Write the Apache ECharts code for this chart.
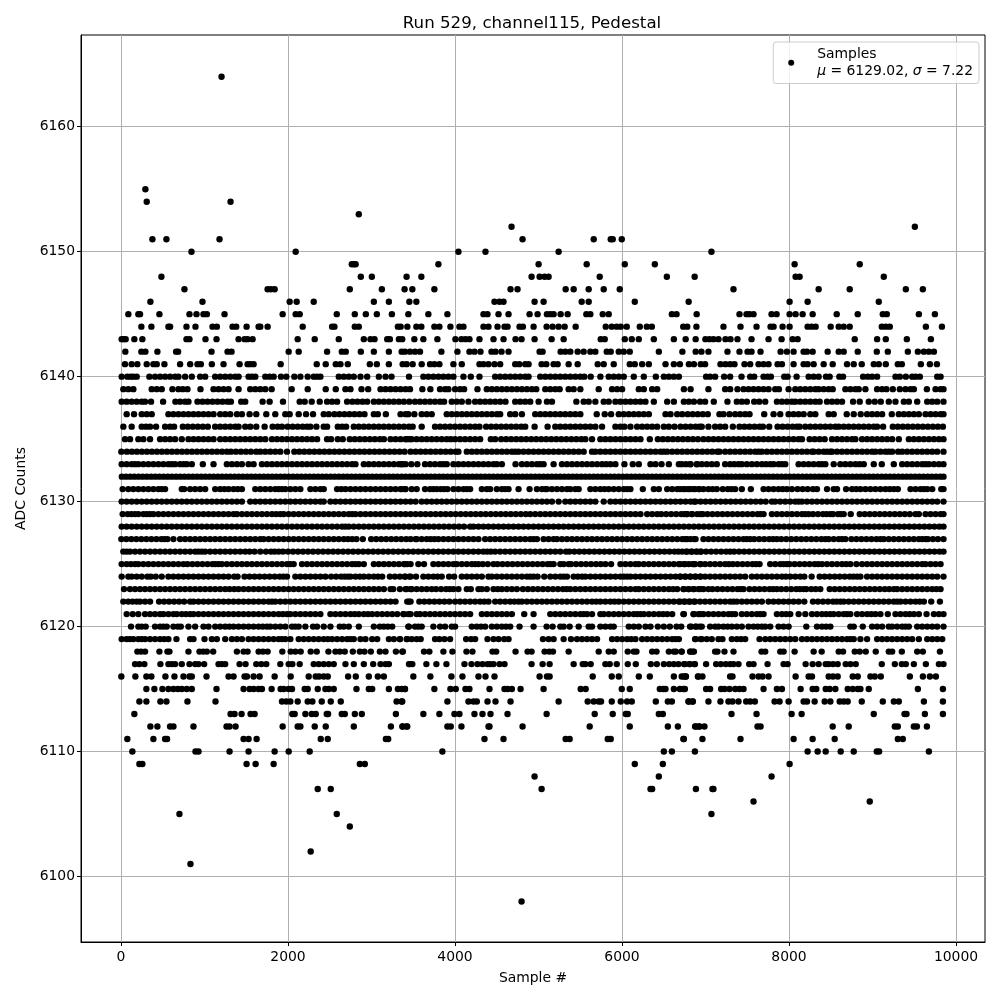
<!DOCTYPE html>
<html><head><meta charset="utf-8">
<script src="https://cdn.jsdelivr.net/npm/echarts@6/dist/echarts.min.js"></script>
<style>html,body{margin:0;padding:0;background:#fff}#c{width:1000px;height:1000px}</style>
</head><body><div id="c"></div>
<script>
const xTicks=[0,2000,4000,6000,8000,10000];
const yTicks=[6100,6110,6120,6130,6140,6150,6160];
const s6164=[1204];
const s6155=[292];
const s6154=[308,1312];
const s6153=[2848];
const s6152=[4677,9507];
const s6151=[376,544,1180,4809,5661,5865,5889,5997];
const s6150=[844,2092,4041,4365,5241,7071];
const s6149=[2764,2790,2810,3801,5001,5577,6033,6393,8067,8847];
const s6148=[484,2872,3004,3420,3597,4917,5013,5073,5121,5733,6537,6870,8079,8127,9135];
const s6147=[760,1756,1796,1840,2740,3124,3396,3489,3753,4665,4749,5325,5421,5601,5781,5973,7335,8355,8727,9399,9603];
const s6146=[352,976,2020,2104,2308,3028,3208,3453,3537,4473,4533,4581,4953,5061,5517,5601,6153,6798,8007,8223,9075];
const s6145=[88,208,228,460,820,904,988,1028,1240,1936,2092,2140,2584,2800,2932,3064,3244,3441,3681,3909,4341,4389,4521,4641,4893,4989,5101,5141,5181,5265,5349,5573,5621,5769,5841,6597,6653,6894,7407,7491,7527,7575,7791,7851,8007,8079,8163,8283,8571,8823,9123,9171,9555,9747];
const s6144=[244,364,568,588,784,892,1096,1148,1336,1380,1504,1648,1668,1756,2176,2528,2556,2800,2848,3316,3349,3429,3537,3597,3753,3813,3945,4053,4101,4341,4401,4509,4593,4629,4773,4813,4941,5097,5169,5241,5313,5445,5805,5877,5937,5985,6057,6213,6297,6357,6733,6781,6891,7215,7419,7611,7779,7815,7923,8007,8223,8271,8319,8499,8595,8655,8727,9111,9159,9207,9639,9831];
const s6143=[8,32,56,160,256,784,820,1012,1144,1408,1480,1516,1576,2116,2320,2608,2908,2988,3036,3188,3220,3328,3368,3513,3621,3789,4005,4077,4125,4173,4293,4461,4581,4725,4797,4953,5157,5301,5745,5793,6033,6117,6201,6381,6621,6762,6882,6999,7047,7095,7155,7239,7299,7383,7551,7755,7911,8043,8103,8787,9055,9159,9411,9699];
const s6142=[52,244,292,436,660,684,1084,1276,1324,2008,2128,2468,2644,2692,2872,3028,3208,3361,3401,3461,3521,3581,3837,4029,4173,4233,4305,4437,4485,4557,4641,5013,5049,5265,5321,5381,5469,5541,5621,5681,5817,5865,5961,6021,6093,6441,6723,6882,6951,7035,7263,7407,7503,7551,7659,7899,7975,8055,8175,8215,8283,8463,8595,8655,8823,9051,9183,9423,9543,9615,9675,9735];
const s6141=[48,128,196,308,388,428,520,708,828,916,956,1088,1228,1420,1516,1548,1588,1912,2344,2452,2572,2628,2716,2980,3064,3208,3373,3421,3493,3601,3701,3753,3813,3981,4081,4293,4341,4401,4473,4541,4721,4769,4841,4881,5037,5093,5181,5229,5361,5469,5709,5781,5901,6093,6153,6241,6321,6521,6621,6693,6801,6861,6943,6995,7179,7239,7295,7347,7467,7535,7635,7695,7755,7863,7915,8055,8175,8223,8295,8415,8523,8695,8775,8871,9015,9075,9159,9303,9351,9579,9687,9771];
const s6140=[8,76,116,148,188,340,408,468,528,588,648,688,768,848,948,1008,1128,1188,1248,1308,1368,1408,1528,1568,1608,1728,1780,1828,1916,1980,2076,2148,2236,2308,2348,2388,2608,2668,2728,2788,2868,2948,3088,3168,3240,3449,3621,3681,3741,3801,3861,3921,3981,4101,4189,4293,4481,4541,4601,4661,4721,4781,4841,4881,5021,5081,5141,5201,5261,5321,5381,5441,5501,5549,5625,5741,5841,5901,5961,6021,6141,6261,6405,6501,6561,6621,6681,7007,7055,7115,7223,7295,7431,7535,7583,7695,7743,7783,7943,7983,8091,8235,8295,8355,8443,8487,8603,8647,8887,8943,8995,9055,9275,9327,9399,9475,9515,9567,9775,9815];
const s6139=[28,88,148,368,428,488,616,688,740,796,952,1108,1168,1228,1288,1408,1548,1608,1668,1728,1804,2044,2236,2452,2572,2688,2748,2880,2960,3108,3168,3228,3288,3348,3408,3461,3609,3705,3821,3881,3921,4001,4061,4109,4269,4381,4441,4501,4561,4621,4681,4741,4801,4861,4921,4973,5081,5141,5201,5253,5361,5421,5501,5721,5881,5941,6001,6201,6261,6361,6421,6741,6821,7035,7235,7295,7383,7455,7515,7575,7635,7695,7755,7835,7879,7995,8075,8135,8195,8255,8315,8355,8415,8475,8523,8675,8735,8795,8835,8915,9055,9115,9167,9243,9327,9395,9455,9495,9651,9755,9815,9850];
const s6138=[8,68,128,188,248,288,360,504,652,708,768,808,916,976,1036,1096,1156,1216,1276,1316,1440,1488,1696,1780,1940,2140,2200,2284,2380,2468,2528,2588,2708,2772,2832,2892,2948,3028,3088,3148,3208,3268,3328,3388,3453,3521,3581,3641,3701,3761,3821,3869,3961,4021,4081,4161,4241,4301,4361,4421,4481,4541,4605,4721,4781,4841,4901,5001,5101,5161,5453,5541,5601,5681,5781,5841,5921,5981,6041,6101,6161,6221,6281,6381,6541,6621,6741,6801,6861,6935,6995,7099,7263,7375,7435,7495,7583,7643,7715,7855,7915,7975,8035,8075,8135,8195,8255,8315,8367,8455,8515,8575,8635,8767,8847,8955,9027,9099,9195,9275,9375,9435,9535,9655,9715,9775,9850];
const s6137=[68,156,248,308,368,568,628,688,748,808,868,928,988,1048,1108,1188,1248,1308,1388,1448,1540,1620,1740,1848,1968,2020,2128,2216,2300,2428,2488,2556,2616,2676,2736,2796,2856,2916,3028,3076,3172,3348,3408,3441,3513,3601,3661,3721,3901,3961,4021,4081,4141,4201,4261,4321,4381,4441,4501,4541,4661,4721,4801,4961,5021,5081,5141,5201,5261,5321,5381,5441,5501,5697,5793,5869,5961,6021,6081,6141,6201,6261,6321,6521,6581,6661,6721,6787,6847,6907,6967,7027,7167,7215,7287,7355,7415,7475,7527,7703,7815,7895,7995,8055,8115,8175,8255,8315,8475,8535,8691,8775,8859,8935,8995,9055,9115,9231,9315,9375,9435,9495,9555,9635,9695,9755,9815,9850];
const s6136=[28,128,248,300,348,420,528,588,636,740,800,860,920,980,1040,1128,1188,1248,1308,1368,1408,1488,1548,1620,1720,1816,1876,1928,1996,2056,2116,2176,2228,2268,2340,2428,2468,2596,2648,2696,2788,2848,2908,2968,3028,3088,3148,3208,3268,3328,3388,3448,3493,3601,3761,3821,3881,3941,4001,4061,4121,4181,4241,4293,4373,4433,4493,4553,4613,4673,4733,4793,4841,4953,5109,5201,5261,5321,5381,5441,5501,5561,5621,5681,5761,5921,5981,6029,6101,6181,6241,6301,6361,6421,6501,6561,6629,6701,6761,6821,6881,6929,6955,7035,7115,7175,7235,7327,7407,7467,7527,7587,7647,7687,7763,7863,7923,7983,8043,8095,8127,8195,8255,8315,8375,8435,8495,8555,8595,8655,8715,8775,8835,8895,8955,9015,9055,9127,9243,9303,9363,9423,9483,9543,9603,9663,9723,9783,9843];
const s6135=[48,108,208,268,348,468,528,588,648,728,808,868,928,988,1048,1108,1188,1248,1308,1368,1428,1488,1548,1608,1668,1728,1808,1868,1928,1988,2048,2108,2168,2228,2288,2348,2468,2516,2596,2656,2740,2800,2860,2920,2980,3040,3100,3148,3228,3288,3348,3408,3456,3421,3481,3541,3601,3661,3721,3781,3841,3901,3949,4001,4061,4121,4181,4241,4301,4429,4481,4553,4613,4673,4733,4793,4853,4913,4973,5033,5093,5153,5213,5273,5333,5393,5453,5513,5561,5641,5741,5801,5861,5921,5981,6041,6101,6161,6221,6333,6429,6489,6549,6609,6669,6729,6789,6849,6909,6975,7035,7095,7155,7215,7275,7335,7395,7455,7515,7575,7635,7695,7755,7815,7875,7935,7995,8055,8115,8155,8247,8307,8367,8427,8515,8575,8635,8695,8755,8795,8875,8935,8995,9055,9115,9175,9235,9315,9435,9495,9555,9615,9675,9735,9795,9850];
const s6134=[4,70,130,190,250,310,370,430,490,550,610,670,730,790,850,910,970,1030,1090,1150,1210,1268,1316,1376,1436,1496,1556,1620,1668,1728,1788,1848,1908,1988,2076,2136,2196,2256,2316,2376,2436,2496,2556,2616,2676,2736,2796,2856,2916,2976,3036,3096,3156,3216,3276,3336,3396,3468,3528,3588,3648,3708,3768,3828,3888,3948,4008,4041,4141,4201,4261,4321,4381,4441,4501,4561,4621,4681,4721,4761,4821,4881,4941,5001,5061,5121,5181,5241,5301,5361,5421,5481,5541,5641,5681,5741,5801,5861,5921,5981,6041,6101,6161,6221,6281,6341,6401,6461,6501,6541,6601,6661,6721,6781,6841,6901,6961,7021,7081,7141,7167,7235,7295,7355,7415,7475,7535,7595,7635,7675,7735,7795,7855,7915,7975,8035,8095,8155,8215,8275,8295,8355,8415,8455,8495,8515,8575,8635,8695,8755,8815,8875,8935,8995,9035,9095,9155,9195,9235,9307,9355,9415,9475,9535,9595,9655,9715,9775,9850];
const s6133=[8,68,128,168,208,268,328,388,448,508,568,608,648,708,750,788,848,980,1108,1268,1328,1388,1448,1528,1588,1688,1748,1808,1868,1928,1988,2048,2108,2168,2228,2288,2348,2408,2468,2528,2588,2648,2708,2768,2808,2908,2968,3028,3088,3148,3208,3268,3328,3368,3408,3361,3477,3549,3641,3701,3761,3821,3861,3901,3981,4041,4101,4161,4221,4281,4341,4401,4461,4501,4561,4725,4801,4861,4921,4981,5021,5061,5181,5281,5341,5401,5461,5521,5581,5641,5701,5761,5811,5861,5921,6029,6129,6201,6341,6401,6473,6561,6681,6821,6901,6715,6765,6815,6895,6955,7015,7075,7135,7235,7295,7345,7395,7435,7495,7555,7615,7675,7725,7775,7815,7875,7915,7955,8115,8175,8235,8295,8355,8395,8435,8535,8615,8675,8735,8795,8845,8895,9015,9111,9255,9355,9415,9475,9535,9595,9635,9675,9735,9795,9850];
const s6132=[10,60,110,160,210,260,310,360,410,460,510,560,610,660,710,760,810,860,910,960,1010,1060,1110,1160,1210,1260,1310,1360,1410,1460,1510,1560,1610,1660,1710,1760,1810,1860,1910,1960,2010,2060,2110,2160,2210,2260,2310,2360,2410,2460,2510,2560,2610,2660,2710,2760,2810,2860,2910,2960,3010,3060,3110,3160,3210,3260,3310,3360,3410,3460,3510,3560,3610,3660,3710,3760,3810,3860,3910,3960,4010,4060,4110,4160,4210,4260,4310,4360,4410,4460,4510,4560,4610,4660,4710,4760,4810,4860,4910,4960,5010,5060,5110,5160,5210,5260,5310,5360,5410,5460,5510,5560,5610,5660,5710,5760,5810,5860,5910,5960,6010,6060,6110,6160,6210,6260,6310,6360,6410,6460,6510,6560,6610,6660,6710,6760,6810,6860,6910,6960,7010,7060,7110,7160,7210,7260,7310,7360,7410,7460,7510,7560,7610,7660,7710,7760,7810,7860,7910,7960,8010,8060,8110,8160,8210,8260,8310,8360,8410,8460,8510,8560,8610,8660,8710,8760,8810,8860,8910,8960,9010,9060,9110,9160,9210,9260,9310,9360,9410,9460,9510,9560,9610,9660,9710,9760,9810,9850];
const s6131=[20,88,148,208,268,328,388,448,488,528,728,756,828,888,948,1008,1128,1188,1238,1288,1348,1398,1448,1608,1668,1728,1788,1848,1888,1928,1968,2028,2088,2148,2268,2328,2388,2428,2588,2638,2688,2748,2808,2868,2928,2988,3048,3108,3168,3228,3288,3348,3408,3361,3401,3481,3541,3641,3701,3741,3781,3829,3869,3909,3981,4041,4101,4141,4181,4321,4381,4421,4501,4561,4601,4641,4761,4893,4981,5041,5081,5101,5161,5221,5281,5341,5381,5441,5481,5621,5681,5741,5791,5841,5901,5961,6021,6061,6101,6249,6381,6441,6541,6601,6661,6733,6793,6853,6921,6695,6755,6815,6875,6925,6975,7035,7085,7135,7207,7267,7311,7355,7435,7543,7695,7755,7815,7875,7925,7975,8035,8103,8163,8223,8287,8335,8455,8535,8575,8683,8755,8805,8855,8915,8975,9035,9095,9155,9205,9255,9303,9455,9515,9575,9615,9655,9715,9823,9850];
const s6130=[8,68,128,188,248,308,368,428,488,548,608,668,728,788,848,908,968,1028,1088,1148,1208,1268,1328,1388,1448,1548,1608,1668,1728,1788,1848,1908,1968,2028,2088,2148,2208,2268,2328,2388,2428,2508,2568,2628,2688,2748,2808,2868,2928,2988,3048,3108,3168,3228,3288,3348,3408,3468,3528,3601,3661,3721,3781,3841,3901,3961,4021,4081,4141,4201,4261,4321,4381,4441,4501,4561,4621,4681,4741,4801,4861,4921,4981,5041,5101,5161,5241,5321,5381,5441,5501,5561,5621,5681,5781,5861,5921,5981,6041,6101,6161,6221,6281,6341,6401,6461,6521,6581,6641,6701,6761,6821,6881,6941,6863,7001,7061,7121,7181,7241,7301,7361,7421,7481,7541,7601,7661,7721,7795,7835,7895,7955,8015,8075,8115,8155,8215,8275,8335,8395,8455,8515,8575,8635,8695,8755,8815,8875,8935,8995,9055,9115,9175,9235,9295,9355,9415,9475,9535,9595,9655,9715,9775,9850];
const s6129=[20,80,125,168,208,268,308,348,388,448,508,568,628,688,748,808,868,928,988,1048,1108,1168,1228,1288,1348,1388,1448,1508,1568,1628,1688,1748,1808,1858,1908,1948,2008,2068,2128,2188,2248,2308,2368,2428,2488,2548,2608,2668,2728,2768,2808,2868,2928,2988,3048,3108,3168,3228,3288,3348,3408,3468,3528,3588,3648,3708,3768,3828,3888,3948,4008,4068,4128,4188,4248,4308,4368,4428,4488,4548,4608,4668,4728,4788,4848,4901,4961,5021,5081,5141,5201,5261,5321,5381,5441,5501,5561,5621,5681,5741,5801,5861,5921,5981,6041,6101,6161,6221,6301,6361,6421,6469,6529,6589,6649,6709,6745,6781,6841,6901,6941,6775,6835,6967,7023,7083,7143,7203,7263,7323,7383,7443,7503,7563,7623,7660,7695,7795,7855,7915,7975,8035,8095,8155,8195,8235,8287,8347,8407,8450,8495,8527,8587,8620,8655,8739,8847,8907,8967,9027,9087,9147,9207,9267,9327,9387,9447,9515,9555,9635,9695,9755,9815,9850];
const s6128=[8,68,128,188,248,308,368,428,488,548,608,668,728,788,848,908,968,1028,1088,1148,1208,1268,1328,1388,1448,1508,1568,1628,1688,1748,1808,1868,1928,1988,2048,2108,2168,2228,2288,2348,2408,2468,2528,2588,2648,2688,2728,2788,2848,2908,2968,3028,3088,3148,3208,3268,3328,3388,3448,3508,3568,3628,3688,3748,3808,3868,3928,3988,4048,4108,4181,4221,4281,4341,4401,4461,4521,4581,4641,4701,4761,4821,4881,4941,5001,5061,5121,5181,5241,5301,5361,5421,5481,5541,5601,5661,5721,5781,5841,5901,5961,6021,6081,6141,6201,6261,6321,6381,6441,6501,6561,6621,6681,6741,6801,6861,6921,6981,7041,7101,7161,7221,7281,7341,7401,7461,7521,7581,7641,7701,7761,7821,7881,7941,8001,8061,8121,8181,8241,8301,8361,8421,8481,8541,8601,8661,8721,8781,8841,8901,8961,9021,9081,9141,9201,9261,9321,9381,9441,9501,9561,9621,9681,9741,9801,9850];
const s6127=[4,64,124,184,244,304,364,424,484,520,556,628,708,768,828,888,948,1008,1068,1128,1188,1248,1308,1368,1428,1488,1548,1608,1668,1708,1768,1828,1888,1948,2008,2068,2128,2188,2248,2308,2368,2428,2488,2548,2608,2668,2718,2768,2820,2896,2996,3056,3116,3176,3236,3296,3356,3416,3468,3528,3541,3601,3661,3707,3753,3801,3861,3921,3981,4041,4101,4161,4221,4281,4361,4421,4481,4541,4601,4661,4721,4781,4841,4901,4941,4981,5061,5121,5181,5221,5281,5341,5401,5461,5521,5581,5641,5701,5761,5821,5881,5941,6001,6061,6121,6181,6241,6301,6361,6421,6481,6541,6601,6661,6721,6781,6821,6881,6755,6863,6975,7035,7095,7155,7215,7275,7335,7395,7455,7495,7535,7583,7643,7703,7763,7810,7855,7907,7967,8027,8087,8147,8207,8267,8327,8387,8435,8475,8535,8595,8635,8675,8747,8807,8867,8927,8987,9047,9095,9135,9195,9255,9315,9375,9435,9495,9555,9595,9635,9663,9723,9783,9850];
const s6126=[28,68,108,168,228,288,348,408,468,528,588,648,708,768,828,888,928,968,1008,1068,1128,1188,1248,1308,1368,1428,1488,1540,1600,1668,1736,1796,1840,1888,1940,2000,2060,2120,2180,2240,2300,2360,2420,2480,2540,2600,2660,2720,2780,2840,2900,2960,3020,3080,3140,3200,3260,3320,3380,3440,3500,3560,3620,3680,3740,3800,3860,3920,3980,4040,4100,4160,4220,4280,4340,4385,4429,4481,4541,4601,4661,4721,4781,4841,4901,4961,5021,5081,5141,5201,5261,5329,5369,5429,5489,5549,5609,5669,5729,5789,5849,5909,5969,6029,6089,6149,6209,6269,6329,6389,6449,6509,6569,6629,6675,6721,6781,6841,6901,6941,6767,6827,6887,6947,7007,7067,7127,7187,7247,7295,7343,7403,7463,7523,7583,7643,7703,7763,7823,7883,7943,8003,8063,8123,8183,8243,8303,8363,8423,8483,8543,8603,8663,8723,8783,8843,8903,8963,9023,9083,9143,9203,9263,9323,9383,9443,9503,9563,9623,9683,9743,9803,9850];
const s6125=[8,68,118,168,208,268,328,388,448,508,568,628,688,748,796,856,916,976,1036,1096,1130,1168,1208,1268,1328,1388,1448,1508,1568,1628,1688,1748,1808,1868,1928,1988,2028,2068,2168,2228,2288,2348,2408,2468,2528,2588,2648,2708,2768,2808,2848,2908,3028,3088,3148,3208,3268,3328,3388,3428,3468,3401,3561,3629,3741,3801,3861,3921,3981,4021,4081,4141,4201,4241,4281,4333,4393,4461,4509,4569,4629,4689,4749,4809,4869,4929,4989,5049,5109,5145,5181,5261,5301,5361,5389,5449,5509,5569,5629,5689,5745,5801,5869,5981,6041,6101,6161,6201,6261,6321,6381,6441,6501,6561,6621,6681,6741,6801,6861,6941,6695,6755,6847,6875,6935,6995,7055,7115,7175,7235,7280,7327,7383,7443,7503,7563,7605,7647,7775,7835,7895,7935,7975,8007,8067,8127,8187,8247,8307,8350,8395,8455,8515,8575,8635,8685,8735,8807,8875,8935,8995,9055,9115,9175,9235,9295,9355,9415,9475,9535,9595,9635,9695,9755,9815];
const s6124=[8,88,128,188,248,316,356,416,488,568,628,688,748,808,868,928,988,1048,1108,1168,1228,1288,1356,1396,1480,1540,1600,1660,1720,1780,1840,1900,1944,1988,2088,2148,2208,2268,2328,2388,2448,2516,2576,2636,2676,2716,2748,2808,2860,2908,2968,3028,3078,3128,3220,3280,3340,3400,3468,3401,3453,3533,3621,3681,3741,3791,3841,3929,3989,4081,4141,4201,4261,4321,4401,4441,4501,4561,4621,4681,4741,4801,4861,4901,4941,4989,5069,5141,5201,5261,5301,5341,5421,5471,5521,5561,5621,5681,5741,5801,5861,5921,5981,6021,6061,6101,6161,6221,6281,6341,6401,6461,6521,6581,6641,6701,6761,6821,6881,6941,6695,6755,6815,6875,6935,6995,7055,7115,7175,7235,7295,7355,7415,7475,7555,7615,7675,7735,7795,7855,7915,7963,8015,8075,8135,8183,8271,8367,8427,8487,8547,8607,8667,8727,8771,8815,8855,8935,8995,9055,9115,9175,9235,9295,9355,9415,9475,9535,9595,9655,9715,9775,9850];
const s6123=[36,108,168,228,288,348,408,468,528,588,648,708,768,828,888,948,1008,1068,1128,1188,1248,1300,1356,1408,1468,1528,1588,1648,1708,1768,1828,1888,1948,2008,2068,2128,2188,2248,2308,2368,2428,2488,2548,2608,2668,2728,2788,2848,2908,2968,3028,3088,3148,3228,3260,3340,3408,3468,3421,3481,3541,3601,3661,3721,3773,3833,3893,3937,3981,4041,4141,4189,4281,4321,4381,4461,4511,4561,4621,4681,4741,4813,4873,4933,4993,5053,5113,5173,5233,5293,5337,5381,5441,5501,5561,5621,5681,5741,5801,5861,5921,5981,6041,6101,6161,6201,6261,6321,6381,6441,6501,6561,6611,6661,6741,6801,6861,6941,6735,6795,6855,6915,6975,7035,7083,7143,7203,7263,7323,7383,7420,7455,7527,7587,7647,7707,7767,7810,7855,7907,7967,8027,8087,8130,8175,8207,8267,8320,8375,8487,8547,8607,8667,8727,8787,8847,8907,8967,9027,9087,9147,9200,9255,9295,9355,9415,9475,9535,9595,9655,9715,9765,9815];
const s6122=[28,88,138,188,228,288,348,456,516,576,636,696,756,828,868,928,988,1048,1108,1168,1228,1288,1348,1408,1468,1528,1588,1648,1708,1768,1808,1848,1908,1968,2028,2088,2148,2208,2268,2328,2388,2448,2508,2568,2628,2688,2748,2808,2868,2928,2988,3048,3108,3168,3228,3288,3428,3468,3449,3573,3633,3693,3753,3813,3873,3933,4001,4061,4121,4181,4241,4301,4351,4401,4481,4541,4601,4661,4711,4761,4801,4861,4921,4981,5041,5101,5161,5221,5281,5341,5401,5461,5521,5581,5641,5691,5741,5801,5861,5911,5961,6021,6081,6141,6201,6261,6321,6381,6441,6501,6561,6621,6681,6741,6801,6861,6695,6755,6815,6875,6935,6995,7055,7115,7175,7235,7295,7335,7375,7435,7495,7555,7615,7675,7755,7815,7875,7935,7995,8055,8115,8183,8287,8347,8407,8467,8527,8570,8615,8655,8715,8775,8835,8895,8955,9015,9075,9135,9195,9255,9295,9335,9395,9455,9515,9565,9615,9703,9807];
const s6121=[68,140,208,288,348,408,468,508,568,628,668,728,778,828,868,928,988,1048,1108,1168,1228,1288,1348,1408,1468,1528,1588,1648,1708,1768,1828,1888,1938,1988,2028,2088,2148,2208,2268,2328,2388,2508,2568,2628,2688,2748,2798,2848,2908,2958,3008,3068,3128,3188,3248,3308,3388,3468,3381,3441,3541,3581,3641,3701,3761,3821,3881,3941,4001,4061,4121,4181,4321,4381,4441,4501,4561,4621,4681,4829,4941,5141,5201,5261,5321,5381,5441,5501,5541,5581,5641,5741,5781,5841,5901,5961,6021,6081,6141,6181,6221,6261,6321,6381,6441,6491,6541,6601,6741,6861,6941,6735,6855,6915,6975,7035,7095,7155,7215,7275,7315,7355,7435,7495,7555,7615,7655,7695,7855,7915,7965,8015,8115,8195,8275,8335,8395,8445,8495,8535,8595,8655,8695,8735,8815,8875,8935,8985,9035,9095,9183,9275,9335,9395,9445,9495,9555,9647,9735,9795,9850];
const s6120=[120,208,248,296,408,468,508,548,628,680,716,808,888,988,1048,1128,1188,1248,1298,1348,1408,1468,1528,1588,1648,1698,1748,1788,1848,1908,1968,2048,2088,2128,2208,2300,2348,2428,2508,2620,2668,2728,2848,3028,3100,3148,3196,3248,3448,3441,3521,3561,3601,3741,3821,3881,3961,4001,4201,4261,4311,4361,4441,4501,4561,4611,4661,4773,4941,5097,5169,5261,5301,5373,5481,5601,5641,5741,5801,5861,5901,6081,6141,6201,6281,6341,6429,6501,6573,6653,6709,6829,6881,6929,6815,6887,6955,7055,7115,7155,7215,7265,7315,7375,7435,7515,7575,7625,7675,7715,7775,7875,7935,7995,8207,8335,8395,8445,8495,8735,8775,8883,8995,9055,9115,9195,9235,9295,9355,9395,9435,9535,9595,9655,9715,9775,9850];
const s6119=[8,68,108,148,208,248,288,348,408,468,518,568,664,828,868,1000,1088,1148,1248,1328,1388,1448,1528,1588,1648,1708,1768,1828,1888,1928,1968,2028,2128,2188,2248,2308,2368,2428,2478,2528,2588,2648,2708,2748,2788,2868,2928,3008,3068,3208,3268,3340,3428,3341,3421,3481,3541,3589,3761,3813,3873,3941,4133,4193,4241,4389,4461,4521,4589,4641,5053,5121,5181,5301,5389,5461,5521,5581,5641,5701,5881,5941,6001,6061,6111,6161,6241,6301,6361,6421,6481,6541,6601,6641,6681,6881,6941,6875,6955,7015,7075,7155,7203,7315,7375,7425,7475,7647,7715,7775,7835,7895,7955,8015,8075,8155,8215,8275,8335,8395,8455,8515,8575,8635,8695,8735,8775,8855,8935,9055,9115,9175,9235,9295,9355,9415,9475,9555,9655,9715,9775,9835];
const s6118=[196,240,288,460,556,580,808,940,985,1028,1104,1388,1468,1516,1648,1700,1756,1932,2032,2088,2152,2272,2344,2484,2568,2620,2680,2776,2860,2916,2992,3100,3168,3292,3376,3369,3629,3693,3861,3969,4137,4209,4449,4493,4725,4869,4917,5073,5129,5173,5361,5721,5841,5901,6069,6141,6173,6361,6413,6561,6621,6645,6713,6821,6861,6715,6815,6847,7115,7143,7227,7335,7671,7715,7895,7935,8067,8295,8391,8595,8647,8787,8847,8919,9039,9195,9235,9351,9535,9603,9807];
const s6117=[168,220,280,472,568,608,648,728,820,888,928,996,1168,1208,1248,1420,1492,1620,1680,1740,1908,2008,2052,2140,2308,2368,2428,2488,2548,2688,2788,2908,3020,3108,3168,3208,3456,3449,3489,3657,3777,3897,4113,4197,4269,4329,4389,4421,4461,4533,4593,4917,5049,5133,5421,5529,5561,5625,5801,5853,5937,6069,6165,6345,6417,6501,6565,6621,6677,6753,6813,6873,6743,6807,6867,7007,7127,7183,7243,7295,7335,7395,7523,7575,7743,7935,7983,8199,8283,8355,8439,8475,8527,8583,8679,8735,8799,9111,9267,9351,9399,9495,9639,9795,9850];
const s6116=[4,172,304,364,532,640,748,820,848,1024,1288,1348,1480,1508,1588,1660,1840,2032,2248,2332,2372,2428,2476,2720,2812,2968,3076,3148,3501,3705,3957,4089,4281,4365,4473,5013,5101,5133,5649,5877,5961,6201,6333,6621,6741,6765,6909,6715,6763,6915,6963,7295,7323,7563,7635,7683,7755,8079,8235,8275,8475,8527,8583,8763,8823,8975,9027,9099,9447,9603,9687,9759];
const s6115=[304,400,496,568,628,680,728,788,848,1144,1468,1540,1588,1648,1688,1804,1912,1948,2008,2048,2200,2236,2356,2448,2488,2548,2820,2968,3008,3208,3316,3400,3361,3401,3753,3945,4009,4125,4173,4413,4593,4629,4681,4785,5061,5505,5565,5997,6093,6453,6493,6521,6621,6693,6753,6735,7007,7055,7187,7227,7287,7355,7407,7455,7695,7855,7915,8139,8283,8327,8439,8487,8555,8703,8763,8823,8855,8955,9543,9843];
const s6114=[220,304,472,544,796,1132,1928,1980,2028,2116,2236,2292,2404,2512,2632,3300,3368,3361,3909,4161,4221,4261,4389,4485,4665,5241,5589,5661,5721,5749,5877,5985,6061,6117,6405,6549,6597,6801,6849,6795,6843,7035,7179,7275,7323,7395,7487,7535,7591,7827,7887,7995,8175,8215,8307,8427,8495,8607,8655,8703,8871,9123,9255,9315,9615,9843];
const s6113=[160,1312,1360,1444,1552,1600,2052,2080,2208,2284,2332,2464,2480,2644,2680,2800,2884,3292,3621,3813,3993,4053,4233,4329,4425,4629,5097,5673,5889,6045,6069,6441,6489,7311,7611,8031,8151,9015,9383,9407,9627,9843];
const s6112=[352,436,588,628,868,1264,1300,1372,1936,2116,2148,2320,2452,2788,3232,3376,3428,3369,3421,3909,3949,4077,4401,4413,4809,5613,6093,6549,6669,6885,6921,6875,6927,6987,7623,7659,8523,8715,9267,9303,9495,9531,9651];
const s6111=[76,388,528,552,1468,1528,1624,2392,2476,3172,3200,4353,4581,5325,5373,5829,5865,6741,6735,6963,7419,8055,8283,8547,9303,9363];
const s6110=[136,892,928,1300,1528,1840,2008,2260,3849,6501,6597,6873,8223,8343,8439,8619,8775,9051,9079,9675];
const s6109=[220,256,1504,1612,1828,2860,2920,6153,6489,8007];
const s6108=[4953,6441,7791];
const s6107=[2356,2512,5037,6341,6361,6885,7083,7095];
const s6106=[7575,8967];
const s6105=[700,2584,7071];
const s6104=[2740];
const s6102=[2272];
const s6101=[832];
const s6098=[4797];
const levels={6164:s6164,6155:s6155,6154:s6154,6153:s6153,6152:s6152,6151:s6151,6150:s6150,6149:s6149,6148:s6148,6147:s6147,6146:s6146,6145:s6145,6144:s6144,6143:s6143,6142:s6142,6141:s6141,6140:s6140,6139:s6139,6138:s6138,6137:s6137,6136:s6136,6135:s6135,6134:s6134,6133:s6133,6132:s6132,6131:s6131,6130:s6130,6129:s6129,6128:s6128,6127:s6127,6126:s6126,6125:s6125,6124:s6124,6123:s6123,6122:s6122,6121:s6121,6120:s6120,6119:s6119,6118:s6118,6117:s6117,6116:s6116,6115:s6115,6114:s6114,6113:s6113,6112:s6112,6111:s6111,6110:s6110,6109:s6109,6108:s6108,6107:s6107,6106:s6106,6105:s6105,6104:s6104,6102:s6102,6101:s6101,6098:s6098};
const points=[];
for(const k of Object.keys(levels)){for(const x of levels[k])points.push([x,+k]);}
const F='"DejaVu Sans"';
const chart=echarts.init(document.getElementById('c'),null,{renderer:'canvas'});
function ax(min,max,ticks,name,gap,margin){return {type:'value',min,max,name,nameLocation:'middle',nameGap:gap,
 nameTextStyle:{fontFamily:F,fontSize:13.9,color:'#000'},
 axisLine:{show:true,onZero:false,lineStyle:{color:'#000',width:1}},
 axisTick:{show:true,length:4,customValues:ticks,lineStyle:{color:'#000',width:1}},
 axisLabel:{customValues:ticks,fontFamily:F,fontSize:13.9,color:'#000',margin,formatter:v=>String(v),showMinLabel:true,showMaxLabel:true},
 splitLine:{show:true,lineStyle:{color:'#b0b0b0',width:1}}};}
chart.setOption({animation:false,backgroundColor:'#fff',
 title:{text:'Run 529, channel115, Pedestal',left:527,top:10,textAlign:'center',textStyle:{fontFamily:F,fontSize:16.67,fontWeight:'normal',color:'#000'}},
 grid:{left:81,right:15,top:35,bottom:58,show:true,borderColor:'#000',borderWidth:1,backgroundColor:'transparent'},
 xAxis:ax(-479,10347,xTicks,'Sample #',29,8),
 yAxis:ax(6094.76,6167.34,yTicks,'ADC Counts',53,6),
 legend:{show:true,right:21,top:42,padding:[5,6,5,15],data:[{name:'Samples',icon:'circle'}],itemWidth:6,itemHeight:6,itemGap:0,
  backgroundColor:'rgba(255,255,255,0.8)',borderColor:'#cccccc',borderWidth:1,borderRadius:3,
  formatter:()=>'{a|Samples}\n{b|μ}{a| = 6129.02, }{b|σ}{a| = 7.22}',
  textStyle:{rich:{a:{fontFamily:F,fontSize:13.9,color:'#000',lineHeight:17.5},b:{fontFamily:F,fontSize:13.9,fontStyle:'italic',color:'#000',lineHeight:17.5}},padding:[0,0,0,18]}},
 series:[{name:'Samples',type:'scatter',data:points,symbol:'circle',symbolSize:6.4,itemStyle:{color:'#000',opacity:1},large:false,progressive:0,silent:true,z:3}]
});
</script></body></html>
